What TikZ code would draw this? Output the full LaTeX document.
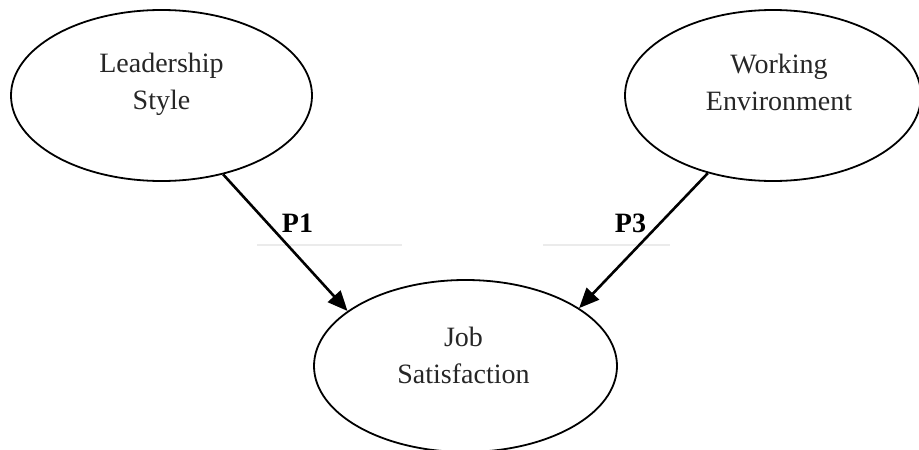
\documentclass[tikz,border=0pt]{standalone}
\usepackage{fontspec}
\setmainfont{Liberation Serif}
\usetikzlibrary{shapes.geometric,arrows.meta}
\begin{document}
\begin{tikzpicture}[x=1pt,y=-1pt,
  oval/.style={ellipse,draw=black,line width=1.8pt,inner sep=0pt,minimum width=#1},
  lbl/.style={align=center,inner sep=0pt,text=black!85,font=\fontsize{28}{37}\selectfont},
  plabel/.style={inner sep=0pt,anchor=base,font=\fontsize{28}{34}\selectfont\bfseries},
  arr/.style={line width=2.6pt,-{Triangle[length=20pt,width=17pt]}},
  faint/.style={draw=black!8,line width=1.2pt}]
\useasboundingbox (0,0) rectangle (919,450);
\clip (0,0) rectangle (919,450);
% ellipses
\node[oval=301pt,minimum height=171pt] (lead) at (161.5,95.5) {};
\node[oval=296pt,minimum height=171pt] (work) at (773,95.5) {};
\node[oval=303pt,minimum height=172pt] (job) at (465.5,366) {};
% texts
\node[lbl] (leadT) at (161.5,84) {\strut Leadership\\\strut Style};
\node[lbl] (workT) at (779,84.5) {\strut Working\\\strut Environment};
\node[lbl] (jobT) at (463.5,357.5) {\strut Job\\\strut Satisfaction};
% faint rules
\coordinate (f1a) at (257,245); \coordinate (f1b) at (402,245);
\coordinate (f2a) at (543,245); \coordinate (f2b) at (670,245);
\draw[faint] (f1a) -- (f1b);
\draw[faint] (f2a) -- (f2b);
% arrows
\draw[arr] (lead.-52) -- (job.155);
\draw[arr] (work.-130) -- (job.27);
% labels
\node[plabel] (p1) at (297.5,232) {P1};
\node[plabel] (p3) at (630.5,232) {P3};
\end{tikzpicture}
\end{document}
